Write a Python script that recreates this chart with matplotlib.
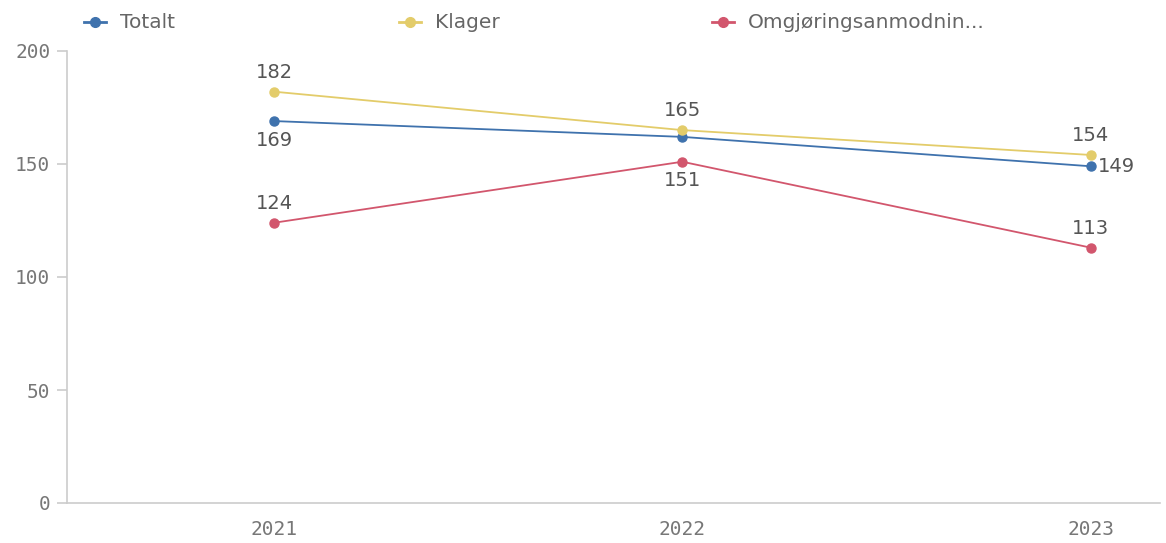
import matplotlib
matplotlib.use('Agg')
import matplotlib.pyplot as plt

years = ['2021', '2022', '2023']
totalt = [169, 162, 149]
klager = [182, 165, 154]
omgjoring = [124, 151, 113]

series = ['Totalt', 'Klager', 'Omgjøringsanmodnin...']
colors = ['#3f72ad', '#e3cc6a', '#d2566d']

fig = plt.figure(figsize=(11.66, 5.43), dpi=100, facecolor='white')
ax = fig.add_axes([67/1166, 40/543, 1093/1166, 452/543])

x = list(range(len(years)))
for vals, c in zip([totalt, klager, omgjoring], colors):
    ax.plot(x, vals, color=c, lw=1.3, marker='o', ms=6.5, zorder=3)

# data labels (Totalt 2022 not labelled in the original)
lab_font = dict(fontsize=14, color='#555555', family='DejaVu Sans', ha='center')
up, dn = 7, -7
ax.annotate(str(klager[0]), (0, klager[0]), xytext=(0, up), textcoords='offset points', va='bottom', **lab_font)
ax.annotate(str(totalt[0]), (0, totalt[0]), xytext=(0, dn), textcoords='offset points', va='top', **lab_font)
ax.annotate(str(omgjoring[0]), (0, omgjoring[0]), xytext=(0, up), textcoords='offset points', va='bottom', **lab_font)
ax.annotate(str(klager[1]), (1, klager[1]), xytext=(0, up), textcoords='offset points', va='bottom', **lab_font)
ax.annotate(str(omgjoring[1]), (1, omgjoring[1]), xytext=(0, dn), textcoords='offset points', va='top', **lab_font)
ax.annotate(str(klager[2]), (2, klager[2]), xytext=(0, up), textcoords='offset points', va='bottom', **lab_font)
ax.annotate(str(omgjoring[2]), (2, omgjoring[2]), xytext=(0, up), textcoords='offset points', va='bottom', **lab_font)
ax.annotate(str(totalt[2]), (2, totalt[2]), xytext=(5, 0), textcoords='offset points', va='center',
            fontsize=14, color='#555555', family='DejaVu Sans', ha='left')

ax.set_xlim(-0.507, 2.17)
ax.set_ylim(0, 200)
ax.set_yticks([0, 50, 100, 150, 200])
ax.set_xticks(x)
ax.set_xticklabels(years)

for s in ['top', 'right']:
    ax.spines[s].set_visible(False)
for s in ['left', 'bottom']:
    ax.spines[s].set_color('#cccccc')
    ax.spines[s].set_linewidth(1.2)
ax.tick_params(axis='y', length=7, color='#cccccc', width=1.2, pad=5,
               labelsize=14, labelcolor='#777777')
ax.tick_params(axis='x', length=0, pad=12, labelsize=14, labelcolor='#777777')
for t in ax.get_xticklabels() + ax.get_yticklabels():
    t.set_family('DejaVu Sans Mono')

# legend along the top
leg_x = [95, 410, 723]
for lx, name, c in zip(leg_x, series, colors):
    xf = lx / 1166
    yf = 1 - 22 / 543
    fig.add_artist(plt.Line2D([xf - 11/1166, xf + 11/1166], [yf, yf], color=c, lw=2,
                              transform=fig.transFigure))
    fig.add_artist(plt.Line2D([xf], [yf], color=c, marker='o', ms=7, transform=fig.transFigure))
    fig.text(xf + 25/1166, yf, name, fontsize=14.5, color='#666666', va='center', ha='left',
             family='DejaVu Sans')

fig.savefig('out.png', dpi=100, facecolor='white')
